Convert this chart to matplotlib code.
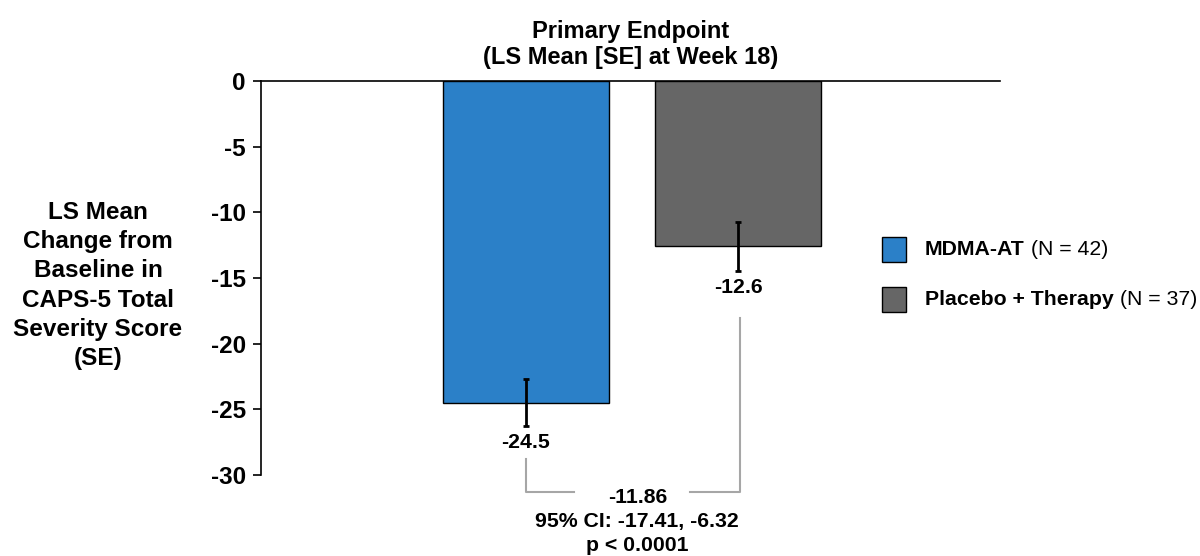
import matplotlib.pyplot as plt
from matplotlib.patches import Rectangle

plt.rcParams['font.family'] = ['Liberation Sans', 'DejaVu Sans']
plt.rcParams['axes.unicode_minus'] = False

groups = ['MDMA-AT', 'Placebo + Therapy']
group_n = ['(N = 42)', '(N = 37)']
means = [-24.5, -12.6]
se = [1.8, 1.9]
colors = ['#2B80C8', '#666666']
diff_lines = ['-11.86', '95% CI: -17.41, -6.32', 'p < 0.0001']

fig = plt.figure(figsize=(12, 5.56), dpi=100)
ax = fig.add_axes([0.2175, 0.1457, 0.6158, 0.7086])

x = [0, 1]
ax.bar(x, means, width=0.783, color=colors, edgecolor='black', linewidth=1)
ax.errorbar(x, means, yerr=se, fmt='none', ecolor='black', elinewidth=2,
            capsize=2.5, capthick=2)

for xi, m, s in zip(x, means, se):
    ax.annotate(f'{m:.1f}', xy=(xi, m - s), xytext=(0, -5), textcoords='offset points',
                ha='center', va='top', fontsize=15.3, fontweight='bold')

ax.set_xlim(-1.25, 2.236)
ax.set_ylim(-30, 0)
ax.set_yticks(range(-30, 1, 5))
ax.tick_params(axis='y', labelsize=17.5, length=6, width=1.2, pad=5)
for lbl in ax.get_yticklabels():
    lbl.set_fontweight('bold')
ax.set_xticks([])
for sp in ['right', 'bottom']:
    ax.spines[sp].set_visible(False)
ax.spines['top'].set_linewidth(1.2)
ax.spines['left'].set_linewidth(1.2)

ax.set_title('Primary Endpoint\n(LS Mean [SE] at Week 18)', fontsize=17,
             fontweight='bold', pad=12, linespacing=1.2)

fig.text(0.0817, 0.4865, 'LS Mean\nChange from\nBaseline in\nCAPS-5 Total\nSeverity Score\n(SE)',
         ha='center', va='center', fontsize=17.5, fontweight='bold', linespacing=1.35)

# difference bracket
bc = '#A6A6A6'
y_low = -31.3
xl, xr = 0.0, 1.01
mid = (xl + xr) / 2
ax.plot([xl, xl, mid - 0.28], [-28.8, y_low, y_low], color=bc, lw=1.5, clip_on=False)
ax.plot([mid + 0.27, xr, xr], [y_low, y_low, -18.05], color=bc, lw=1.5, clip_on=False)
ax.text(mid + 0.02, -30.98, '\n'.join(diff_lines), ha='center', va='top', fontsize=15.3,
        fontweight='bold', linespacing=1.35, clip_on=False)

# legend
for i, (g, n, c) in enumerate(zip(groups, group_n, colors)):
    yb = 1 - (262 + i * 50) / 556
    fig.patches.append(Rectangle((882 / 1200, yb), 24 / 1200, 25 / 556, transform=fig.transFigure,
                                 facecolor=c, edgecolor='black', linewidth=1, figure=fig))
    t = fig.text(925 / 1200, yb + 12.5 / 556, g, ha='left', va='center', fontsize=15.3,
                 fontweight='bold')
    ax.annotate(' ' + n, xy=(1, 0), xycoords=t, va='bottom', fontsize=15.3,
                annotation_clip=False)

fig.savefig('out.png', dpi=100)
